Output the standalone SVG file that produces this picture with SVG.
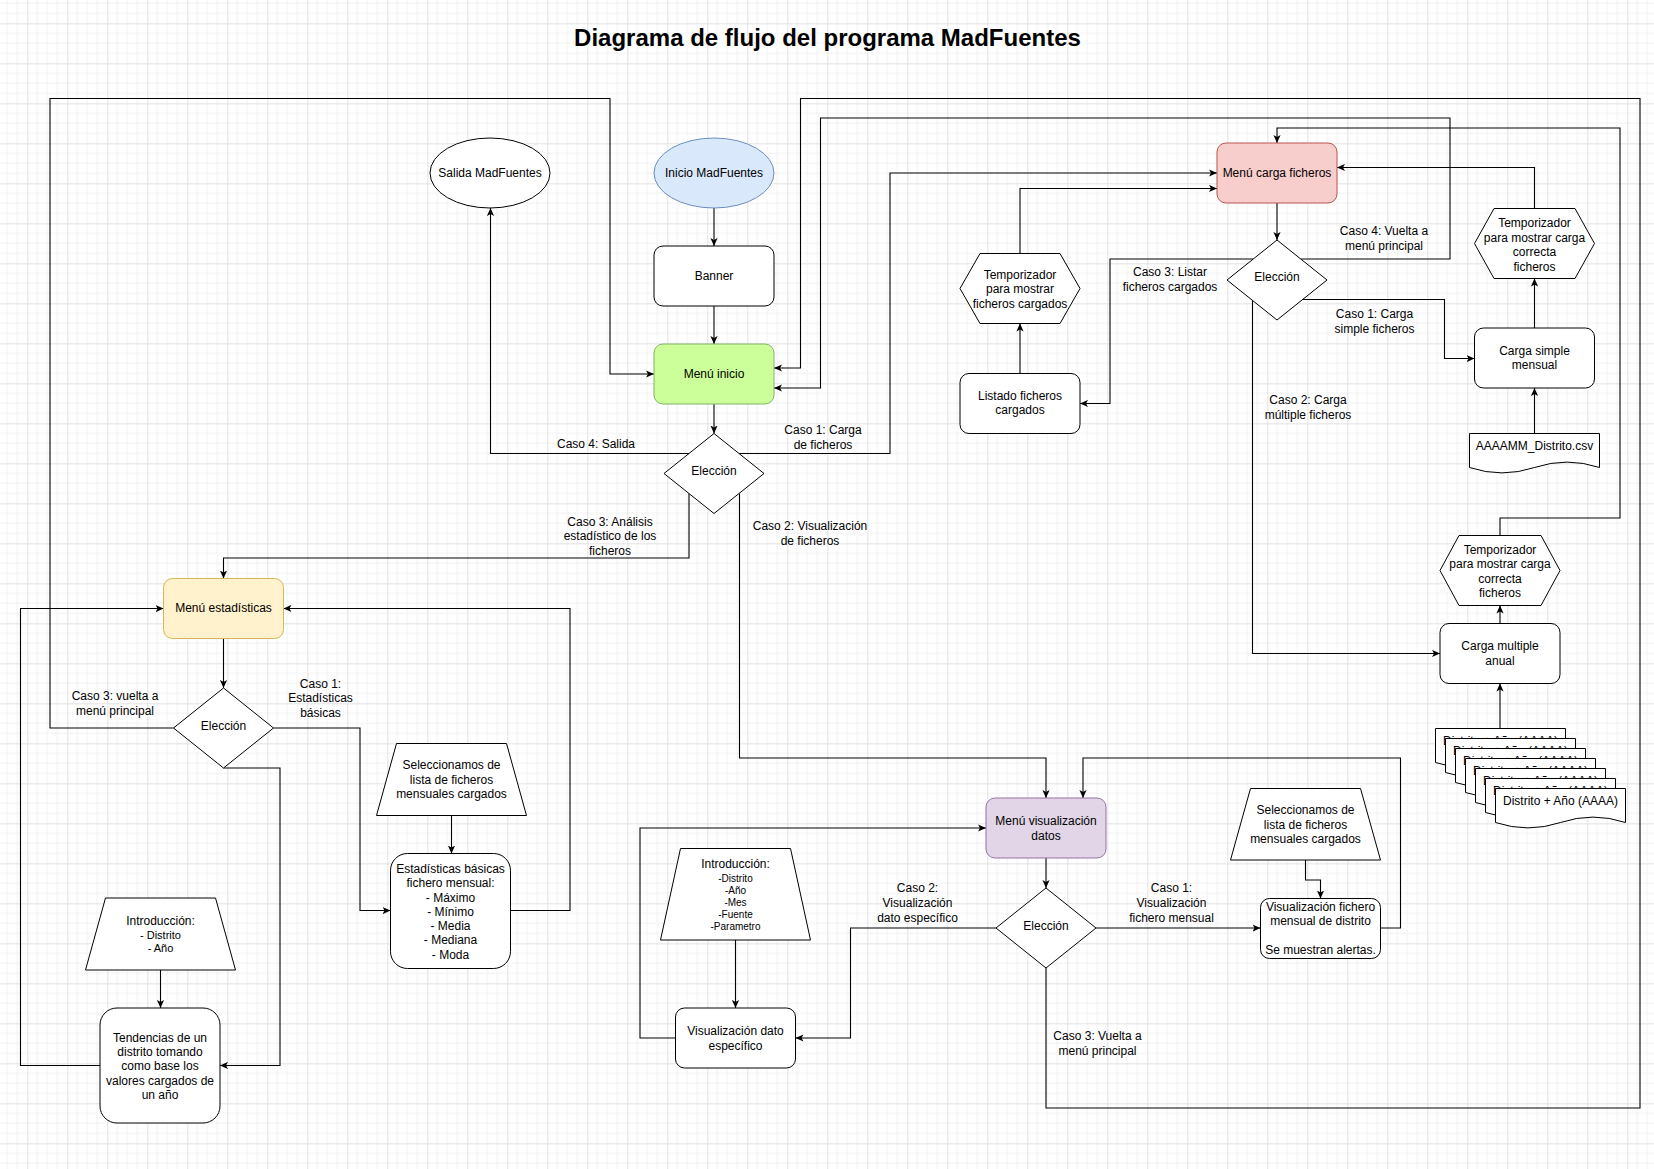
<svg xmlns="http://www.w3.org/2000/svg" width="1654" height="1169" viewBox="0 0 1654 1169">
<defs>
<pattern id="grid" patternUnits="userSpaceOnUse" x="27.3" y="23.3" width="40" height="40">
<path d="M10,0V40M20,0V40M30,0V40M0,10H40M0,20H40M0,30H40" stroke="#f1f1f1" stroke-width="1" fill="none"/>
<path d="M0.5,0V40M0,0.5H40" stroke="#e2e2e2" stroke-width="1" fill="none"/>
</pattern>
<marker id="arr" viewBox="0 0 8 8" markerWidth="8" markerHeight="8" refX="8" refY="4" orient="auto" markerUnits="userSpaceOnUse">
<path d="M0,0.4 L8,4 L0,7.6 L2,4 Z" fill="#000"/>
</marker>
<path id="docshape" d="M0,0 L130,0 L130,34 Q97.5,23.2 65,34 Q32.5,44.8 0,34 Z"/>
</defs>
<style>
.t{font-family:"Liberation Sans",Arial,Helvetica,sans-serif;font-size:12px;fill:#000;text-anchor:middle}
.s11{font-size:11px}
.s10{font-size:10px}
.title{font-family:"Liberation Sans",Arial,Helvetica,sans-serif;font-size:24px;font-weight:bold;fill:#000;text-anchor:middle}
.n{fill:#fff;stroke:#000;stroke-width:1}
.e{fill:none;stroke:#000;stroke-width:1.1;marker-end:url(#arr)}
.doc{fill:#fff;stroke:#000;stroke-width:1}
</style>
<rect x="0" y="0" width="1654" height="1169" fill="#fff"/>
<rect x="0" y="0" width="1654" height="1169" fill="url(#grid)"/>
<text class="title" x="827.5" y="46">Diagrama de flujo del programa MadFuentes</text>

<g id="connectors">
<path class="e" d="M714,208 V246"/>
<path class="e" d="M714,306 V344"/>
<path class="e" d="M714,404 V433.5"/>
<path class="e" d="M689,453.5 H490.5 V208"/>
<path class="e" d="M739,453.5 H890 V173 H1217"/>
<path class="e" d="M689,493.5 V558 H223.5 V578.5"/>
<path class="e" d="M739.5,493.5 V758 H1046 V798"/>
<path class="e" d="M1277,203 V240"/>
<path class="e" d="M1253,259 H1110 V403.5 H1080"/>
<path class="e" d="M1020,373.5 V323.5"/>
<path class="e" d="M1020,253.5 V188.5 H1217"/>
<path class="e" d="M1301,259 H1450 V118 H820.5 V388 H774"/>
<path class="e" d="M1302,299.5 H1444.5 V358.5 H1474.5"/>
<path class="e" d="M1534.5,328 V278.5"/>
<path class="e" d="M1534.5,433.5 V388"/>
<path class="e" d="M1534.5,208.5 V167.5 H1337"/>
<path class="e" d="M1252.5,300.5 V653.5 H1440"/>
<path class="e" d="M1500,535.5 V518 H1620 V128 H1277 V143"/>
<path class="e" d="M1500,623.5 V605.5"/>
<path class="e" d="M1500,728.5 V683.5"/>
<path class="e" d="M223.5,638.5 V688"/>
<path class="e" d="M173.5,728 H50 V98.5 H610 V374 H654"/>
<path class="e" d="M273.5,728 H360 V910.5 H390.5"/>
<path class="e" d="M451.5,815.5 V853.5"/>
<path class="e" d="M510.5,910.5 H570 V608.5 H283.5"/>
<path class="e" d="M223.5,768 H280 V1065.5 H220"/>
<path class="e" d="M160.5,970 V1008"/>
<path class="e" d="M100,1065.5 H20.5 V608.5 H163.5"/>
<path class="e" d="M1046,858 V888"/>
<path class="e" d="M1096,928 H1260.5"/>
<path class="e" d="M1305.5,860 V880 H1320.5 V898.5"/>
<path class="e" d="M1380.5,928 H1400.5 V758 H1083 V798"/>
<path class="e" d="M996,928 H850.5 V1038 H795.5"/>
<path class="e" d="M735.5,940 V1008"/>
<path class="e" d="M675.5,1038 H640 V828 H986"/>
<path class="e" d="M1046,968 V1108 H1640 V98.5 H800.5 V368 H774"/>
<g id="edge-labels">
<text class="t" x="596" y="448">Caso 4: Salida</text>
<text class="t" x="823" y="434">Caso 1: Carga</text>
<text class="t" x="823" y="449">de ficheros</text>
<text class="t" x="610" y="526">Caso 3: Análisis</text>
<text class="t" x="610" y="540">estadístico de los</text>
<text class="t" x="610" y="555">ficheros</text>
<text class="t" x="810" y="530">Caso 2: Visualización</text>
<text class="t" x="810" y="545">de ficheros</text>
<text class="t" x="1170" y="276">Caso 3: Listar</text>
<text class="t" x="1170" y="291">ficheros cargados</text>
<text class="t" x="1384" y="235">Caso 4: Vuelta a</text>
<text class="t" x="1384" y="250">menú principal</text>
<text class="t" x="1374.5" y="318">Caso 1: Carga</text>
<text class="t" x="1374.5" y="333">simple ficheros</text>
<text class="t" x="1308" y="404">Caso 2: Carga</text>
<text class="t" x="1308" y="419">múltiple ficheros</text>
<text class="t" x="115" y="700">Caso 3: vuelta a</text>
<text class="t" x="115" y="715">menú principal</text>
<text class="t" x="320.5" y="688">Caso 1:</text>
<text class="t" x="320.5" y="702">Estadísticas</text>
<text class="t" x="320.5" y="717">básicas</text>
<text class="t" x="917.5" y="892">Caso 2:</text>
<text class="t" x="917.5" y="907">Visualización</text>
<text class="t" x="917.5" y="922">dato específico</text>
<text class="t" x="1171.5" y="892">Caso 1:</text>
<text class="t" x="1171.5" y="907">Visualización</text>
<text class="t" x="1171.5" y="922">fichero mensual</text>
<text class="t" x="1097.5" y="1040">Caso 3: Vuelta a</text>
<text class="t" x="1097.5" y="1055">menú principal</text>
</g>
</g>

<g id="salida">
<ellipse class="n" cx="490" cy="173" rx="60" ry="35"/>
<text class="t" x="490" y="177">Salida MadFuentes</text>
</g>
<g id="inicio">
<ellipse cx="714" cy="173" rx="60" ry="35" fill="#dae8fc" stroke="#6c8ebf" stroke-width="1"/>
<text class="t" x="714" y="177">Inicio MadFuentes</text>
</g>
<g id="banner">
<rect class="n" x="654" y="246" width="120" height="60" rx="9"/>
<text class="t" x="714" y="280">Banner</text>
</g>
<g id="menu-inicio">
<rect x="654" y="344" width="120" height="60" rx="9" fill="#ccff99" stroke="#82b366" stroke-width="1"/>
<text class="t" x="714" y="378">Menú inicio</text>
</g>
<g id="eleccion-inicio">
<path class="n" d="M714,433.5 L764,473.5 L714,513.5 L664,473.5 Z"/>
<text class="t" x="714" y="475">Elección</text>
</g>

<g id="menu-carga">
<rect x="1217" y="143" width="120" height="60" rx="9" fill="#f8cecc" stroke="#b85450" stroke-width="1"/>
<text class="t" x="1277" y="177">Menú carga ficheros</text>
</g>
<g id="eleccion-carga">
<path class="n" d="M1277,240 L1327,280 L1277,320 L1227,280 Z"/>
<text class="t" x="1277" y="281">Elección</text>
</g>
<g id="temporizador-listado">
<path class="n" d="M980,253.5 H1060 L1080,288.5 L1060,323.5 H980 L960,288.5 Z"/>
<text class="t" x="1020" y="278.5">Temporizador</text>
<text class="t" x="1020" y="293">para mostrar</text>
<text class="t" x="1020" y="307.5">ficheros cargados</text>
</g>
<g id="listado">
<rect class="n" x="960" y="373.5" width="120" height="60" rx="9"/>
<text class="t" x="1020" y="399.5">Listado ficheros</text>
<text class="t" x="1020" y="414">cargados</text>
</g>
<g id="temporizador-simple">
<path class="n" d="M1494,208.5 H1575 L1594.5,243.5 L1575,278.5 H1494 L1474.5,243.5 Z"/>
<text class="t" x="1534.5" y="227">Temporizador</text>
<text class="t" x="1534.5" y="241.5">para mostrar carga</text>
<text class="t" x="1534.5" y="256">correcta</text>
<text class="t" x="1534.5" y="270.5">ficheros</text>
</g>
<g id="carga-simple">
<rect class="n" x="1474.5" y="328" width="120" height="60" rx="9"/>
<text class="t" x="1534.5" y="354.5">Carga simple</text>
<text class="t" x="1534.5" y="369">mensual</text>
</g>
<g id="doc-aaaamm">
<use href="#docshape" class="doc" x="1469.5" y="433.5"/>
<text class="t" x="1534.5" y="450">AAAAMM_Distrito.csv</text>
</g>
<g id="temporizador-multiple">
<path class="n" d="M1459,535.5 H1541 L1560,570.5 L1541,605.5 H1459 L1440,570.5 Z"/>
<text class="t" x="1500" y="553.5">Temporizador</text>
<text class="t" x="1500" y="568">para mostrar carga</text>
<text class="t" x="1500" y="582.5">correcta</text>
<text class="t" x="1500" y="597">ficheros</text>
</g>
<g id="carga-multiple">
<rect class="n" x="1440" y="623.5" width="120" height="60" rx="9"/>
<text class="t" x="1500" y="650">Carga multiple</text>
<text class="t" x="1500" y="664.5">anual</text>
</g>
<g id="doc-stack">
<g id="doc-1"><use href="#docshape" class="doc" x="1435.5" y="728.5"/><text class="t" x="1500.5" y="745">Distrito + Año (AAAA)</text></g>
<g id="doc-2"><use href="#docshape" class="doc" x="1445.5" y="738.5"/><text class="t" x="1510.5" y="755">Distrito + Año (AAAA)</text></g>
<g id="doc-3"><use href="#docshape" class="doc" x="1455.5" y="748.5"/><text class="t" x="1520.5" y="765">Distrito + Año (AAAA)</text></g>
<g id="doc-4"><use href="#docshape" class="doc" x="1465.5" y="758.5"/><text class="t" x="1530.5" y="775">Distrito + Año (AAAA)</text></g>
<g id="doc-5"><use href="#docshape" class="doc" x="1475.5" y="768.5"/><text class="t" x="1540.5" y="785">Distrito + Año (AAAA)</text></g>
<g id="doc-6"><use href="#docshape" class="doc" x="1485.5" y="778.5"/><text class="t" x="1550.5" y="795">Distrito + Año (AAAA)</text></g>
<g id="doc-7"><use href="#docshape" class="doc" x="1495.5" y="788.5"/><text class="t" x="1560.5" y="805">Distrito + Año (AAAA)</text></g>
</g>

<g id="menu-estadisticas">
<rect x="163.5" y="578.5" width="120" height="60" rx="9" fill="#fff2cc" stroke="#d6b656" stroke-width="1"/>
<text class="t" x="223.5" y="612">Menú estadísticas</text>
</g>
<g id="eleccion-estadisticas">
<path class="n" d="M223.5,688 L273.5,728 L223.5,768 L173.5,728 Z"/>
<text class="t" x="223.5" y="729.5">Elección</text>
</g>
<g id="selecciona-estadisticas">
<path class="n" d="M396.5,743.5 H506.5 L526.5,815.5 H376.5 Z"/>
<text class="t" x="451.5" y="769">Seleccionamos de</text>
<text class="t" x="451.5" y="783.5">lista de ficheros</text>
<text class="t" x="451.5" y="798">mensuales cargados</text>
</g>
<g id="estadisticas-basicas">
<rect class="n" x="390.5" y="853.5" width="120" height="115" rx="17"/>
<text class="t" x="450.5" y="872.5">Estadísticas básicas</text>
<text class="t" x="450.5" y="887">fichero mensual:</text>
<text class="t" x="450.5" y="901.5">- Máximo</text>
<text class="t" x="450.5" y="915.5">- Mínimo</text>
<text class="t" x="450.5" y="930">- Media</text>
<text class="t" x="450.5" y="944">- Mediana</text>
<text class="t" x="450.5" y="958.5">- Moda</text>
</g>
<g id="introduccion-tendencias">
<path class="n" d="M105.5,898 H215.5 L235.5,970 H85.5 Z"/>
<text class="t" x="160.5" y="924.5">Introducción:</text>
<text class="t s11" x="160.5" y="938.5">- Distrito</text>
<text class="t s11" x="160.5" y="951.5">- Año</text>
</g>
<g id="tendencias">
<rect class="n" x="100" y="1008" width="120" height="115" rx="17"/>
<text class="t" x="160" y="1041.5">Tendencias de un</text>
<text class="t" x="160" y="1056">distrito tomando</text>
<text class="t" x="160" y="1070">como base los</text>
<text class="t" x="160" y="1084.5">valores cargados de</text>
<text class="t" x="160" y="1099">un año</text>
</g>

<g id="menu-visualizacion">
<rect x="986" y="798" width="120" height="60" rx="9" fill="#e1d5e7" stroke="#9673a6" stroke-width="1"/>
<text class="t" x="1046" y="825">Menú visualización</text>
<text class="t" x="1046" y="840">datos</text>
</g>
<g id="eleccion-visualizacion">
<path class="n" d="M1046,888 L1096,928 L1046,968 L996,928 Z"/>
<text class="t" x="1046" y="930">Elección</text>
</g>
<g id="selecciona-visualizacion">
<path class="n" d="M1250.5,788.5 H1360.5 L1380.5,860 H1230.5 Z"/>
<text class="t" x="1305.5" y="814">Seleccionamos de</text>
<text class="t" x="1305.5" y="828.5">lista de ficheros</text>
<text class="t" x="1305.5" y="843">mensuales cargados</text>
</g>
<g id="visualizacion-fichero">
<rect class="n" x="1260.5" y="898.5" width="120" height="60" rx="9"/>
<text class="t" x="1320.5" y="911">Visualización fichero</text>
<text class="t" x="1320.5" y="925">mensual de distrito</text>
<text class="t" x="1320.5" y="954">Se muestran alertas.</text>
</g>
<g id="introduccion-dato">
<path class="n" d="M680.5,848.5 H790.5 L810.5,940 H660.5 Z"/>
<text class="t" x="735.5" y="867.5">Introducción:</text>
<text class="t s10" x="735.5" y="882">-Distrito</text>
<text class="t s10" x="735.5" y="894">-Año</text>
<text class="t s10" x="735.5" y="906">-Mes</text>
<text class="t s10" x="735.5" y="918">-Fuente</text>
<text class="t s10" x="735.5" y="930">-Parametro</text>
</g>
<g id="visualizacion-dato">
<rect class="n" x="675.5" y="1008" width="120" height="60" rx="9"/>
<text class="t" x="735.5" y="1034.5">Visualización dato</text>
<text class="t" x="735.5" y="1049.5">específico</text>
</g>
</svg>
